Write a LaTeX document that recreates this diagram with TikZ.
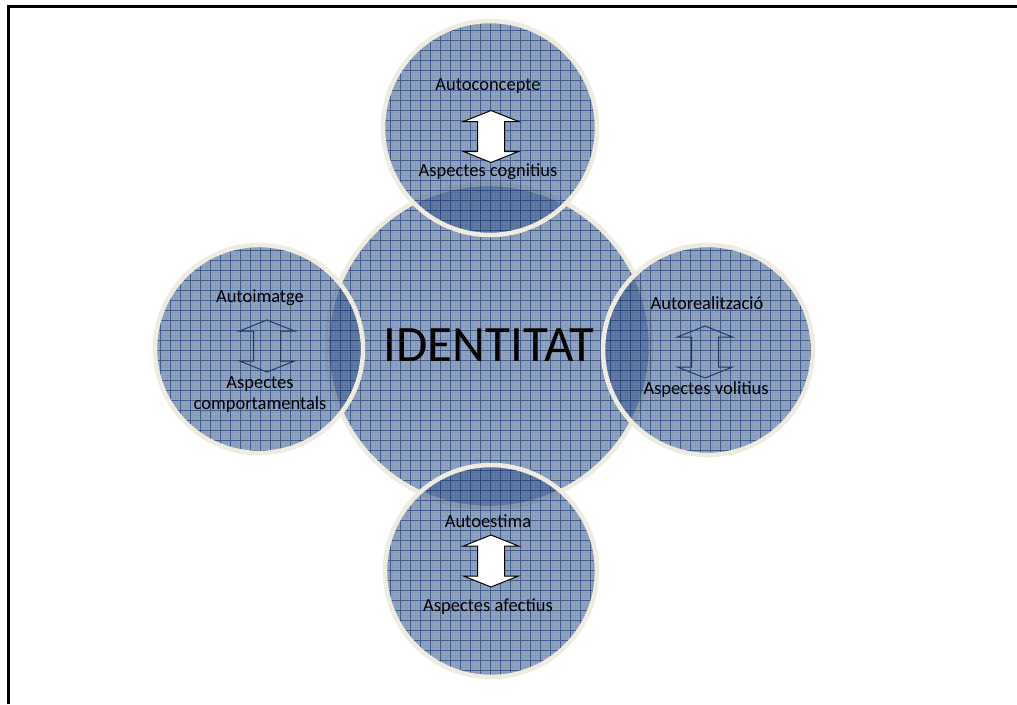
\documentclass[tikz,border=0pt]{standalone}
\usepackage{fontspec}
\setmainfont{Carlito}
\definecolor{cfill}{RGB}{65,95,145}
\definecolor{cgrid}{RGB}{35,65,120}
\definecolor{cring}{RGB}{238,236,225}
\definecolor{cnavy}{RGB}{31,56,100}
\tikzset{
  majorgrid/.style={draw=cgrid, line width=0.8pt, opacity=0.7, step=10pt},
  finegrid/.style={draw=cgrid, line width=0.3pt, opacity=0.12, step=2.5pt},
  ring/.style={draw=cring, line width=4.5pt},
  lbl/.style={font=\fontsize{18.5}{21}\selectfont, text=black, inner sep=0pt, align=center},
  bigl/.style={font=\fontsize{51}{55}\selectfont, text=black, inner sep=0pt},
  whitearrow/.style={draw=black, fill=white, line width=1pt, line join=miter},
  bluearrow/.style={draw=cnavy, line width=1pt, line join=miter},
  updown/.pic={
    \path[pic actions] (0,-26) -- (27.5,-15) -- (13.5,-15) -- (13.5,15) -- (27.5,15)
      -- (0,26) -- (-27.5,15) -- (-13.5,15) -- (-13.5,-15) -- (-27.5,-15) -- cycle;
  }
}
\newcommand\blob[4]{%
  \node[circle, inner sep=0pt, minimum size={#4pt*2}, fill=cfill, fill opacity=0.55] (#1) at (#2,#3) {};
  \begin{scope}
    \clip (#1.center) circle (#4pt);
    \draw[finegrid] ({#2-#4},{#3-#4}) grid ({#2+#4},{#3+#4});
    \draw[majorgrid] ({#2-#4},{#3-#4}) grid ({#2+#4},{#3+#4});
  \end{scope}
  \draw[ring] (#1.center) circle (#4pt);
}
\begin{document}
\begin{tikzpicture}[x=1pt, y=-1pt]
\useasboundingbox (0,0) rectangle (1017,704);
\fill[white] (0,0) rectangle (1017,704);
% frame
\draw[line width=3pt, line join=miter] (8.3,704) -- (8.3,6.5) -- (1017,6.5);
% circles
\blob{mid}{489}{346}{162}
\blob{top}{490}{128}{107}
\blob{lft}{259}{349}{104}
\blob{rgt}{708}{350}{105}
\blob{bot}{491}{571}{106}
% arrows
\pic[whitearrow] at (491,136.5) {updown};
\pic[bluearrow] at (267,346) {updown};
\pic[bluearrow] at (705,352) {updown};
\pic[whitearrow] at (491,561) {updown};
% labels
\node[bigl] (tid) at (489,345) {IDENTITAT};
\node[lbl] (t1) at (488,86) {Autoconcepte};
\node[lbl] (t2) at (488,172) {Aspectes cognitius};
\node[lbl] (t3) at (260,298) {Autoimatge};
\node[lbl] (t4) at (260,395) {Aspectes\\comportamentals};
\node[lbl] (t5) at (707,303) {Autorealització};
\node[lbl] (t6) at (706,390) {Aspectes volitius};
\node[lbl] (t7) at (488,521) {Autoestima};
\node[lbl] (t8) at (488,607) {Aspectes afectius};
\end{tikzpicture}
\end{document}
